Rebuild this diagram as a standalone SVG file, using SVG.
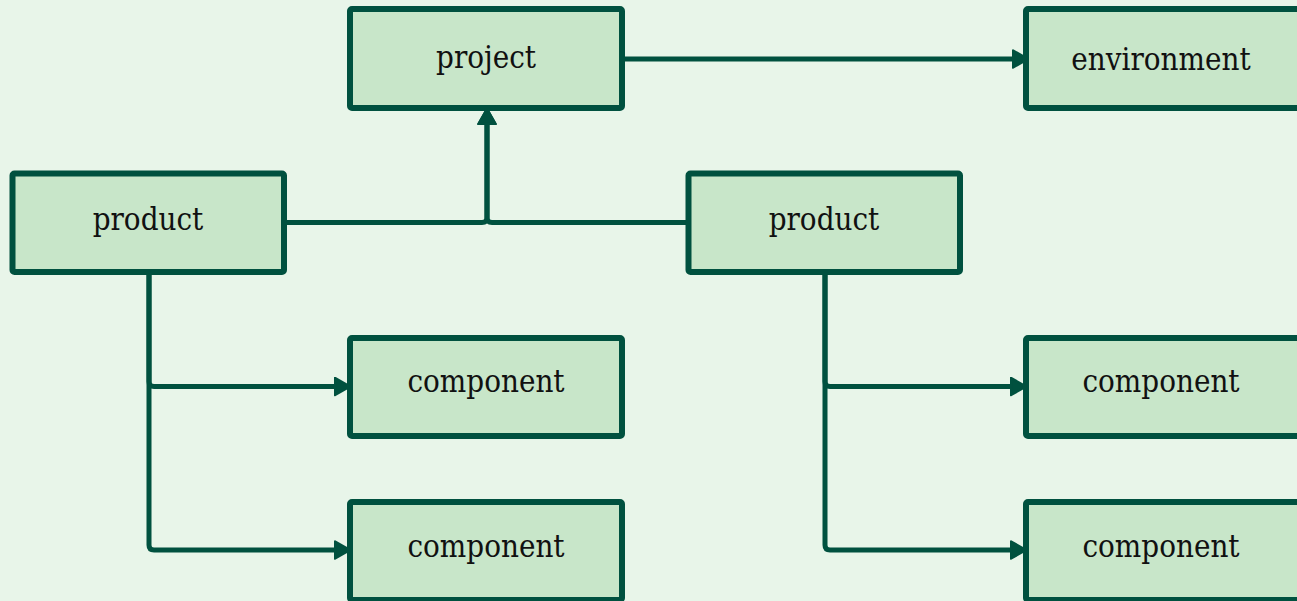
<svg xmlns="http://www.w3.org/2000/svg" width="1297" height="601" viewBox="0 0 1297 601">
<style>
.node rect{fill:#c8e6c9;stroke:#00513f;stroke-width:6}
.node text{font-family:"DejaVu Serif Condensed","DejaVu Serif","Liberation Serif",serif;font-stretch:condensed;font-size:31px;fill:#111;text-anchor:middle}
.edge{fill:none;stroke:#00513f;stroke-width:5}
</style>
<defs>
<marker id="ah" markerUnits="userSpaceOnUse" markerWidth="20" markerHeight="20" refX="1" refY="8" orient="auto" viewBox="0 0 16 16">
<path d="M1,1.2 L13,8 L1,14.8 z" fill="#00513f" stroke="#00513f" stroke-width="2" stroke-linejoin="round"/>
</marker>
</defs>
<rect width="1297" height="601" fill="#e8f5e9"/>
<g id="connectors">
<path class="edge" d="M625,59 H1013" marker-end="url(#ah)"/>
<path class="edge" d="M284,222.5 H482 Q487,222.5 487,217.5 V124" marker-end="url(#ah)"/>
<path class="edge" d="M687,222.5 H492 Q487,222.5 487,217.5 V124" marker-end="url(#ah)"/>
<path class="edge" d="M149,272 V381.5 Q149,386.5 154,386.5 H335" marker-end="url(#ah)"/>
<path class="edge" d="M149,272 V545 Q149,550 154,550 H335" marker-end="url(#ah)"/>
<path class="edge" d="M825,272 V381.5 Q825,386.5 830,386.5 H1011" marker-end="url(#ah)"/>
<path class="edge" d="M825,272 V545 Q825,550 830,550 H1011" marker-end="url(#ah)"/>
</g>
<g id="project" class="node"><rect x="350" y="9" width="272" height="99" rx="2"/><text x="486" y="68">project</text></g>
<g id="environment" class="node"><rect x="1026" y="9" width="274" height="99" rx="2"/><text x="1161" y="70">environment</text></g>
<g id="product1" class="node"><rect x="12.5" y="173.5" width="271.5" height="98.5" rx="2"/><text x="148" y="230">product</text></g>
<g id="product2" class="node"><rect x="688.5" y="173.5" width="271.5" height="98.5" rx="2"/><text x="824" y="230">product</text></g>
<g id="component1" class="node"><rect x="350" y="338" width="272" height="98" rx="2"/><text x="486" y="392">component</text></g>
<g id="component2" class="node"><rect x="350" y="502" width="272" height="98" rx="2"/><text x="486" y="557">component</text></g>
<g id="component3" class="node"><rect x="1026" y="338" width="274" height="98" rx="2"/><text x="1161" y="392">component</text></g>
<g id="component4" class="node"><rect x="1026" y="502" width="274" height="98" rx="2"/><text x="1161" y="557">component</text></g>
</svg>
